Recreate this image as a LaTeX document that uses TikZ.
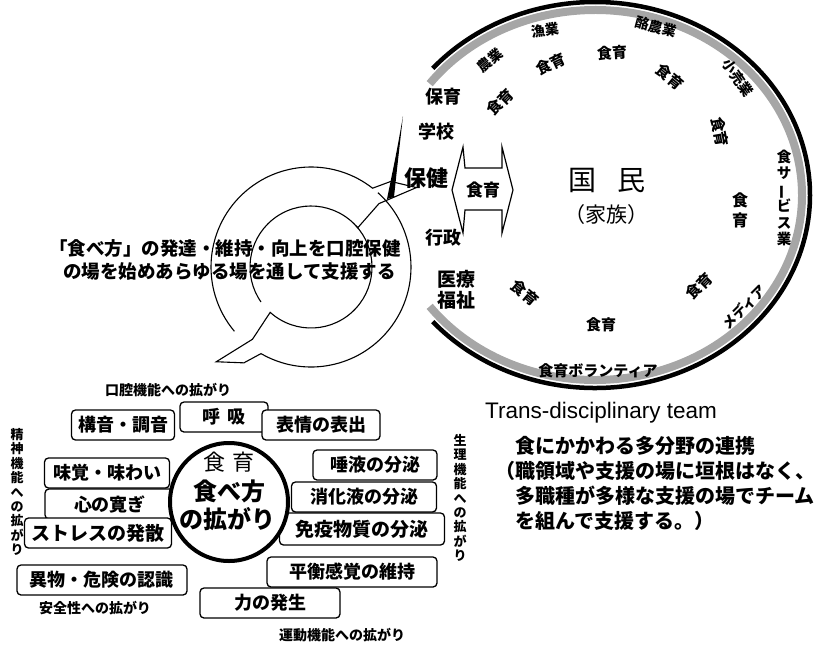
\documentclass[tikz,border=0pt]{standalone}
\usepackage{fontspec}
\usepackage{graphicx}
\newfontfamily\jp{Noto Sans CJK JP}
\newfontfamily\lsans{Liberation Sans}
\newcommand{\fsz}[1]{\fontsize{#1}{#1}\selectfont}
\newcommand{\fszl}[2]{\fontsize{#1}{#2}\selectfont}
\begin{document}
\begin{tikzpicture}[x=1pt,y=-1pt,
  box/.style={draw, line width=1.3pt, rounded corners=4pt, fill=white, inner sep=0pt,
    minimum height=30pt, font={\jp\bfseries\fsz{18}}},
  lab/.style={inner sep=0pt, font={\jp\bfseries\fsz{14}}},
  shoku/.style={inner sep=0pt, font={\jp\bfseries\fsz{15}}},
  sector/.style={inner sep=0pt, font={\jp\bfseries\fsz{18}}},
  vlab/.style={inner sep=0pt, align=center, font={\jp\bfseries\fszl{13}{14.4}}},
  para/.style={inner sep=0pt, anchor=west, font={\jp\bfseries\fsz{20}}},
  ringline/.style={line width=1.1pt}]
\useasboundingbox (0,0) rectangle (823,649);

% ---------- big open circle ----------
\begin{scope}[shift={(595,195)}, yscale=-1]
  \draw[black!35, line width=8pt] (143:207 and 185) arc[start angle=143, end angle=-143, x radius=207, y radius=185];
  \draw[line width=4.5pt] (139:215 and 193) arc[start angle=139, end angle=-139, x radius=215, y radius=193];
\end{scope}

% ---------- labels along the circle ----------
\node[lab, rotate=40]  (nogyo)   at (490,60) {農業};
\node[lab, rotate=8]   (gyogyo)  at (545,30) {漁業};
\node[lab, rotate=-15] (rakuno)  at (656,27) {酪農業};
\node[lab, rotate=-55] (kouri)   at (738,78) {小売業};
\node[vlab, font={\jp\bfseries\fszl{14.5}{16.5}}] (foodserv) at (784,198)
  {食\\サ\\\rotatebox[origin=c]{90}{ー}\\ビ\\ス\\業};
\node[lab, rotate=45]  (media)   at (744,307) {メディア};
\node[lab, font={\jp\bfseries\fsz{15}}] (volunteer) at (598,371) {食育ボランティア};

\node[shoku, rotate=25]  (s1) at (551,64) {食育};
\node[shoku, rotate=3]   (s2) at (612,53) {食育};
\node[shoku, rotate=-40] (s3) at (670,77) {食育};
\node[shoku, rotate=45]  (s4) at (500,102) {食育};
\node[shoku, rotate=-80] (s5) at (720,132) {食育};
\node[vlab, font={\jp\bfseries\fszl{16}{20}}] (s6) at (740,210) {食\\育};
\node[shoku, rotate=45]  (s7) at (699,286) {食育};
\node[shoku]             (s8) at (601,325) {食育};
\node[shoku, rotate=-40] (s9) at (525,293) {食育};

\node[sector] (hoiku)  at (443,97)  {保育};
\node[sector] (gakko)  at (436,132) {学校};
\node[sector, font={\jp\bfseries\fsz{22}}] (hoken) at (426,178) {保健};
\node[sector] (gyosei) at (443,238) {行政};
\node[sector, align=center, font={\jp\bfseries\fszl{19}{21}}] (iryo) at (456,290) {医療\\福祉};

\node[inner sep=0pt, font={\jp\fsz{28}}] (kokumin) at (607,180) {国\hspace{21pt}民};
\node[inner sep=0pt, font={\jp\fsz{21}}] (kazoku) at (606,215) {（家族）};

% ---------- double arrow ----------
\draw[line width=1.2pt] (452,190) -- (463,147) -- (465,168) -- (502,168) -- (502,147)
  -- (513,190) -- (502,233) -- (502,210) -- (465,210) -- (463,233) -- cycle;
\node[inner sep=0pt, font={\jp\bfseries\fsz{17}}] (arrowtext) at (483,190) {食育};

% ---------- black wedge ----------
\fill (403,116) .. controls (397,150) .. (387,199) -- (394,197) .. controls (398,160) .. (403,116);

% ---------- cycle arrows ----------
\begin{scope}[shift={(311,267)}, yscale=-1, ringline]
  \draw (220:100) arc[start angle=220, end angle=52, radius=100] -- (47:117) -- (37:132)
    -- (43:93) -- (40:61) arc[start angle=40, end angle=215, radius=61];
  \draw (48:100) arc[start angle=48, end angle=-120, radius=100] -- (235:117) -- (225:134)
    -- (231:93) -- (228:61) arc[start angle=228, end angle=403, radius=61];
\end{scope}

\node[inner sep=0pt, anchor=east, font={\jp\bfseries\fsz{18.5}}] (lt1) at (401,248) {「食べ方」の発達・維持・向上を口腔保健};
\node[inner sep=0pt, anchor=east, font={\jp\bfseries\fsz{18.5}}] (lt2) at (396,271) {の場を始めあらゆる場を通して支援する};

% ---------- right paragraph ----------
\node[inner sep=0pt, anchor=west, font={\lsans\fsz{22.5}}] (trans) at (485,413) {Trans-disciplinary team};
\node[para] (p1) at (515,446) {食にかかわる多分野の連携};
\node[para] (p2) at (495,471) {（職領域や支援の場に垣根はなく、};
\node[para] (p3) at (515,496) {多職種が多様な支援の場でチーム};
\node[para] (p4) at (515,521) {を組んで支援する。）};

% ---------- bottom-left cluster ----------
\node[box, minimum width=103pt] (koon)   at (123,425) {構音・調音};
\node[box, minimum width=88pt]  (kokyu)  at (224,417) {呼\hspace{7pt}吸};
\node[box, minimum width=118pt] (hyojo)  at (321,425) {表情の表出};
\node[box, minimum width=125pt] (mikaku) at (107,473) {味覚・味わい};
\node[box, minimum width=130pt] (kokoro) at (110,504) {心の寛ぎ};
\node[box, minimum width=147pt, font={\jp\bfseries\fsz{19}}] (stress) at (98,533) {ストレスの発散};
\node[box, minimum width=124pt] (daeki)  at (375,465) {唾液の分泌};
\node[box, minimum width=145pt] (shoka)  at (364,497) {消化液の分泌};
\node[box, minimum width=165pt, minimum height=32pt, font={\jp\bfseries\fsz{19}}] (meneki) at (362,529) {免疫物質の分泌};
\node[box, minimum width=170pt] (heiko)  at (352,572) {平衡感覚の維持};
\node[box, minimum width=140pt] (chikara) at (270,603) {力の発生};
\node[box, minimum width=170pt] (ibutsu) at (102,580) {異物・危険の認識};

\node[draw, circle, line width=4pt, fill=white, minimum size=118pt, inner sep=0pt] (core) at (229,502) {};
\node[inner sep=0pt, font={\jp\fsz{22}}] (core1) at (229,462) {食\hspace{8pt}育};
\node[inner sep=0pt, font={\jp\bfseries\fsz{24}}] (core2) at (229,491) {食べ方};
\node[inner sep=0pt, font={\jp\bfseries\fsz{24}}] (core3) at (227,519) {の拡がり};

\node[lab] (l1) at (168,390) {口腔機能への拡がり};
\node[lab] (l2) at (95,608)  {安全性への拡がり};
\node[lab] (l3) at (342,635) {運動機能への拡がり};
\node[vlab] (l4) at (17,492)  {精\\神\\機\\能\\へ\\の\\拡\\が\\り};
\node[vlab] (l5) at (460,498) {生\\理\\機\\能\\へ\\の\\拡\\が\\り};
\end{tikzpicture}
\end{document}
